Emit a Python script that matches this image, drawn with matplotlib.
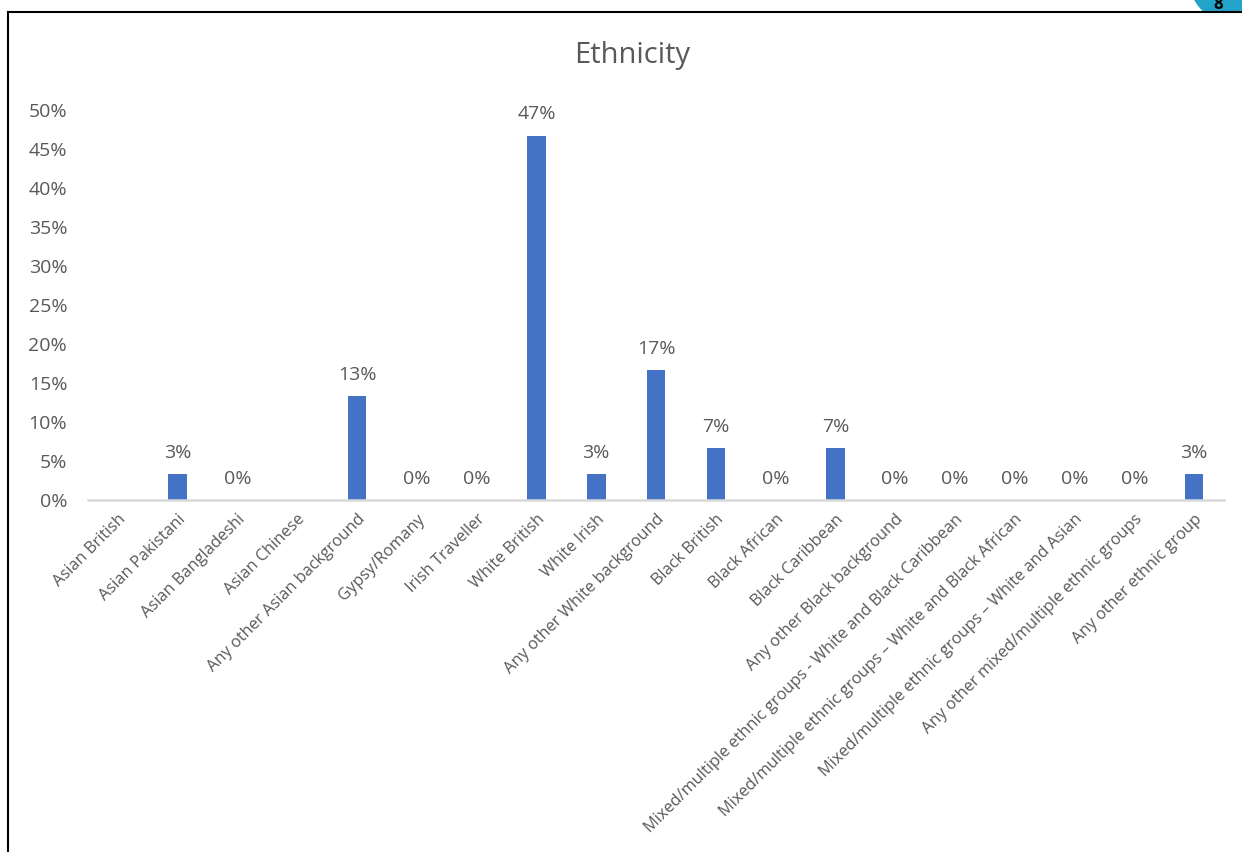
# Ethnicity bar chart (Excel style)
import numpy as np
import matplotlib.pyplot as plt
from matplotlib.patches import Circle, Rectangle

categories = [
    'Asian British', 'Asian Pakistani', 'Asian Bangladeshi', 'Asian Chinese',
    'Any other Asian background', 'Gypsy/Romany', 'Irish Traveller',
    'White British', 'White Irish', 'Any other White background',
    'Black British', 'Black African', 'Black Caribbean',
    'Any other Black background',
    'Mixed/multiple ethnic groups - White and Black Caribbean',
    'Mixed/multiple ethnic groups \u2013 White and Black African',
    'Mixed/multiple ethnic groups \u2013 White and Asian',
    'Any other mixed/multiple ethnic groups',
    'Any other ethnic group',
]
# share of respondents (None = no value in the sheet)
values = [None, 0.0333, 0.0, None, 0.1333, 0.0, 0.0, 0.4667, 0.0333, 0.1667,
          0.0667, 0.0, 0.0667, 0.0, 0.0, 0.0, 0.0, 0.0, 0.0333]
y_ticks = [0, 0.05, 0.10, 0.15, 0.20, 0.25, 0.30, 0.35, 0.40, 0.45, 0.50]

grey = '#595959'
plt.rcParams['font.family'] = ['Open Sans', 'DejaVu Sans']

fig = plt.figure(figsize=(12.42, 8.52), dpi=100)
ax = fig.add_axes([0.0709, 0.413, 0.9146, 0.458])

x = np.arange(len(categories))
heights = [v if v is not None else 0 for v in values]
ax.bar(x, heights, width=0.31, color='#4472C4', zorder=2)

for xi, v in zip(x, values):
    if v is None:
        continue
    ax.annotate('{:.0%}'.format(v), (xi, v), xytext=(0, 9),
                textcoords='offset points', ha='center', va='bottom',
                fontsize=14, color=grey)

ax.set_xlim(-0.5, len(categories) - 0.5)
ax.set_ylim(0, 0.5)
ax.set_yticks(y_ticks)
ax.set_yticklabels(['{:.0%}'.format(t) for t in y_ticks])
ax.set_xticks(x)
ax.set_xticklabels(categories, rotation=45, ha='right',
                   rotation_mode='anchor', fontsize=11.8, color=grey)
ax.tick_params(axis='y', length=0, labelsize=14, labelcolor=grey, pad=15)
ax.tick_params(axis='x', length=0, pad=8)
for s in ['top', 'right', 'left']:
    ax.spines[s].set_visible(False)
ax.spines['bottom'].set_color('#d9d9d9')
ax.spines['bottom'].set_linewidth(1.8)

fig.text(632 / 1242, 1 - 55 / 852, 'Ethnicity', ha='center', va='center',
         fontsize=21, color=grey)

# frame of the chart area in the screenshot
fig.add_artist(plt.Line2D([8 / 1242, 8 / 1242], [0, 1 - 12 / 852],
                          transform=fig.transFigure, color='black', lw=1.5))
fig.add_artist(plt.Line2D([8 / 1242, 1], [1 - 12 / 852, 1 - 12 / 852],
                          transform=fig.transFigure, color='black', lw=1.5))
# teal page-number badge peeking in at the corner, cut by the frame line
clip = Rectangle((0, 852 - 12), 1242, 12, transform=None)
badge = Circle((1232, 852 + 20), 42, transform=None, color='#23a3c9', zorder=0)
fig.add_artist(badge)
badge.set_clip_path(clip)
num = fig.text(1218 / 1242, 1 - 4 / 852, '8', ha='center', va='center',
               fontsize=12, color='black', fontweight='bold')
num.set_clip_path(clip)

fig.savefig('out.png', dpi=100)
